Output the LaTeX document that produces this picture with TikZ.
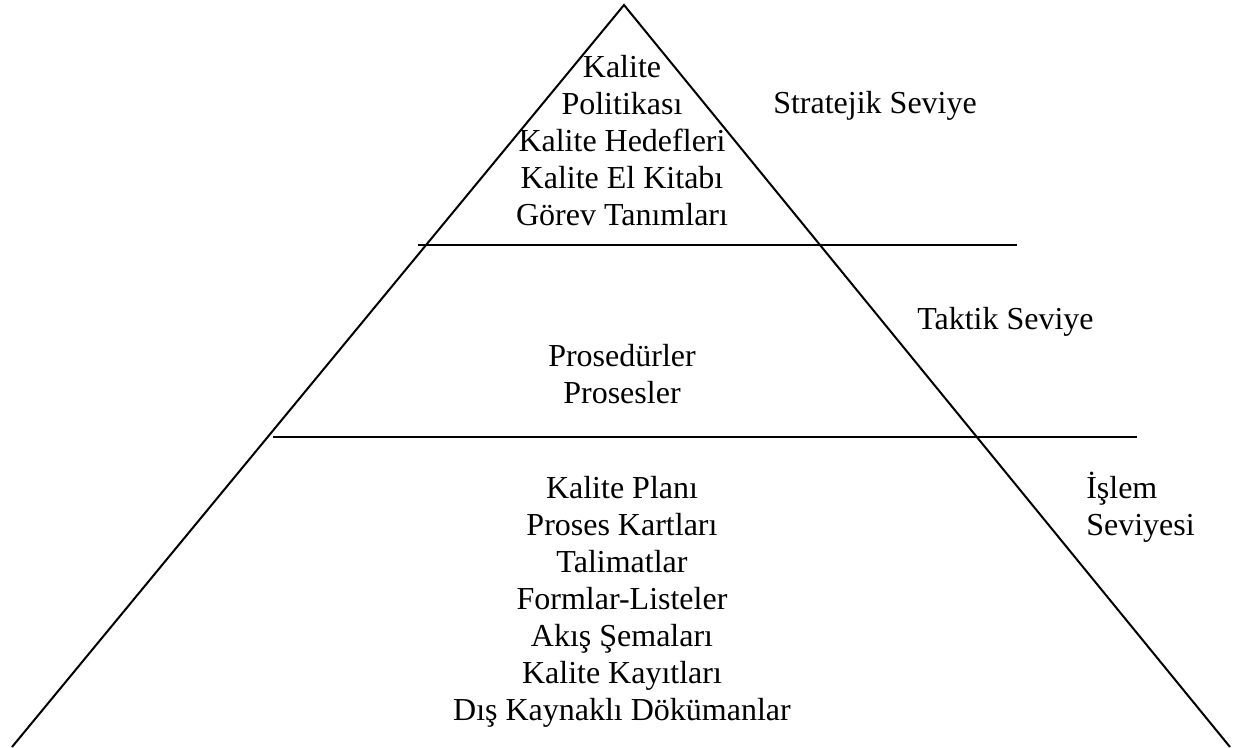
\documentclass[tikz,border=0pt]{standalone}
\usepackage{fontspec}
\setmainfont{Liberation Serif}
\usepackage{tikz}

\begin{document}
\begin{tikzpicture}[x=0.75pt,y=-0.75pt,
    lbl/.style={align=center,anchor=base,inner sep=0pt,font=\fontsize{24}{27.75}\selectfont},
    side/.style={align=left,anchor=base west,inner sep=0pt,font=\fontsize{24}{27.75}\selectfont}]
    \useasboundingbox (0,0) rectangle (1237,747);
    \coordinate (1) at (624,5);
    \coordinate (2) at (12,747);
    \coordinate (3) at (1230,747);
    \coordinate (4) at (418,245);
    \coordinate (5) at (1017,245);
    \coordinate (6) at (273,437);
    \coordinate (7) at (1137,437);

    \node (8) at (622,225) [lbl] {Kalite\\Politikası\\Kalite Hedefleri\\Kalite El Kitabı\\Görev Tanımları};
    \node (9) at (622,403) [lbl] {Prosedürler\\Prosesler};
    \node (10) at (622,720) [lbl] {Kalite Planı\\Proses Kartları\\Talimatlar\\Formlar-Listeler\\Akış Şemaları\\Kalite Kayıtları\\Dış Kaynaklı Dökümanlar};

    \node (11) at (773,113) [side] {Stratejik Seviye};
    \node (12) at (917,329) [side] {Taktik Seviye};
    \node (13) at (1086,535) [side] {İşlem\\Seviyesi};

    \draw [black, line width=1.5pt] (2) -- (1) -- (3);
    \draw [black, line width=1.5pt] (4) edge (5) (6) edge (7);
\end{tikzpicture}
\end{document}
